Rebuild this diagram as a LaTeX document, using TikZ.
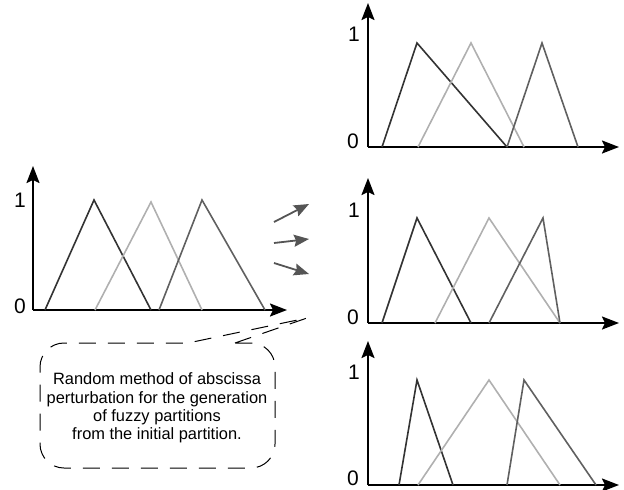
\documentclass[tikz,border=0pt]{standalone}
\usepackage{fontspec}
\setmainfont{Liberation Sans}
\usetikzlibrary{arrows.meta}
\definecolor{cdark}{HTML}{333333}
\definecolor{clight}{HTML}{B0B0B0}
\definecolor{cmed}{HTML}{606060}
\definecolor{carrow}{HTML}{555555}
\begin{document}
\begin{tikzpicture}[x=1pt,y=-1pt,
  axis/.style={line width=2pt,-{Stealth[length=17pt,width=13pt,inset=3pt]}},
  mfd/.style={line width=1.6pt,cdark,line join=miter},
  mfl/.style={line width=1.6pt,clight,line join=miter},
  mfm/.style={line width=1.6pt,cmed,line join=miter},
  gen/.style={line width=1.8pt,carrow,-{Stealth[length=15pt,width=12pt,inset=2pt]}},
  lab/.style={font=\fontsize{21}{24}\selectfont,inner sep=0pt},
  callout/.style={line width=1pt,dash pattern=on 17pt off 12pt},
  txt/.style={align=center,font=\fontsize{16.4}{18.4}\selectfont,inner sep=0pt}]
\useasboundingbox (0,0) rectangle (624,490);
% ---------- left chart ----------
\coordinate (LO) at (33,310);
\coordinate (LY) at (33,166);
\coordinate (LX) at (287,310);
\draw[axis] (LO) -- (LY);
\draw[axis] (LO) -- (LX);
\node[lab] (l1) at (20,200) {1};
\node[lab] (l0) at (20,306) {0};
\draw[mfd] (45,310) -- (94,200) -- (151,310);
\draw[mfl] (95,310) -- (151,202) -- (202,310);
\draw[mfm] (159,310) -- (202,200) -- (265,310);
% ---------- arrows ----------
\coordinate (a1s) at (274,222); \coordinate (a1e) at (309,204);
\coordinate (a2s) at (274,243); \coordinate (a2e) at (309,239);
\coordinate (a3s) at (274,263); \coordinate (a3e) at (309,274);
\draw[gen] (a1s) -- (a1e);
\draw[gen] (a2s) -- (a2e);
\draw[gen] (a3s) -- (a3e);
% ---------- top right ----------
\coordinate (TO) at (368,147);
\draw[axis] (TO) -- (368,3);
\draw[axis] (TO) -- (619,147);
\node[lab] (t1) at (354,34) {1};
\node[lab] (t0) at (353,141) {0};
\draw[mfd] (382,147) -- (417,43) -- (507,147);
\draw[mfl] (418,147) -- (471,43) -- (524,147);
\draw[mfm] (507,147) -- (542,43) -- (578,147);
% ---------- middle right ----------
\coordinate (MO) at (368,323);
\draw[axis] (MO) -- (368,178);
\draw[axis] (MO) -- (619,323);
\node[lab] (m1) at (354,210) {1};
\node[lab] (m0) at (353,317) {0};
\draw[mfd] (382,323) -- (417,218) -- (471,323);
\draw[mfl] (435,323) -- (489,218) -- (560,323);
\draw[mfm] (489,323) -- (543,218) -- (560,323);
% ---------- bottom right ----------
\coordinate (BO) at (368,485);
\draw[axis] (BO) -- (368,341);
\draw[axis] (BO) -- (619,485);
\node[lab] (b1) at (354,372) {1};
\node[lab] (b0) at (353,478) {0};
\draw[mfd] (399,485) -- (417,380) -- (453,485);
\draw[mfl] (418,485) -- (489,380) -- (560,485);
\draw[mfm] (507,485) -- (524,380) -- (596,485);
% ---------- callout ----------
\coordinate (tip) at (307,318);
\draw[callout] (235,343) -- (tip) -- (188,343)
  [rounded corners=24] -- (40,343) -- (40,468) -- (275,468) -- (275,343)
  [sharp corners] -- cycle;
\node[txt] (desc) at (157,408) {Random method of abscissa\\perturbation for the generation\\of fuzzy partitions\\from the initial partition.};
\end{tikzpicture}
\end{document}
